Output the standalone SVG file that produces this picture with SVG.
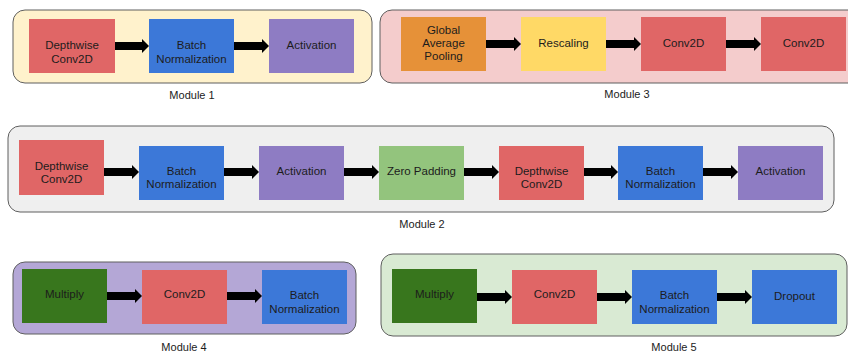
<svg xmlns="http://www.w3.org/2000/svg" width="848" height="354" viewBox="0 0 848 354">
  <defs>
    <style>
      .frame { stroke: #5f5f5f; stroke-width: 1; }
      .m1 { fill: #fff2cc; }
      .m2 { fill: #efefef; }
      .m3 { fill: #f4cccc; }
      .m4 { fill: #b4a7d6; }
      .m5 { fill: #d9ead3; }
      .red { fill: #e06666; }
      .blue { fill: #3c78d8; }
      .purple { fill: #8e7cc3; }
      .lgreen { fill: #93c47d; }
      .orange { fill: #e69138; }
      .yellow { fill: #ffd966; }
      .dgreen { fill: #38761d; }
      .node rect { stroke: none; }
      text { font-family: "Liberation Sans", Arial, sans-serif; fill: #1c1c1c; text-anchor: middle; }
      .lbl { font-size: 11.5px; }
      .cap { font-size: 11px; }
      .conn line { stroke: #000; stroke-width: 8; marker-end: url(#head); }
    </style>
    <marker id="head" markerUnits="userSpaceOnUse" markerWidth="7" markerHeight="14" refX="0" refY="7" orient="auto" overflow="visible">
      <path d="M0,0 L7,7 L0,14 Z" fill="#000"/>
    </marker>
  </defs>

  <!-- module frames -->
  <g id="module1">
    <rect class="frame m1" x="13" y="10" width="359" height="73" rx="12"/>
    <text class="cap" x="192" y="99">Module 1</text>
  </g>
  <g id="module3">
    <rect class="frame m3" x="380" y="10" width="480" height="73" rx="12"/>
    <text class="cap" x="627" y="98">Module 3</text>
  </g>
  <g id="module2">
    <rect class="frame m2" x="8" y="126" width="826" height="86" rx="12"/>
    <text class="cap" x="422" y="228">Module 2</text>
  </g>
  <g id="module4">
    <rect class="frame m4" x="13" y="262" width="343" height="72" rx="12"/>
    <text class="cap" x="184" y="351">Module 4</text>
  </g>
  <g id="module5">
    <rect class="frame m5" x="381" y="254" width="466" height="82" rx="12"/>
    <text class="cap" x="674" y="351">Module 5</text>
  </g>

  <!-- Module 1 nodes -->
  <g id="m1-depthwise" class="node">
    <rect class="red" x="29" y="19" width="86" height="54"/>
    <text class="lbl" x="72" y="49">Depthwise</text>
    <text class="lbl" x="72" y="63">Conv2D</text>
  </g>
  <g id="m1-batchnorm" class="node">
    <rect class="blue" x="149" y="19" width="85" height="54"/>
    <text class="lbl" x="191.5" y="49">Batch</text>
    <text class="lbl" x="191.5" y="63">Normalization</text>
  </g>
  <g id="m1-activation" class="node">
    <rect class="purple" x="269" y="19" width="85" height="54"/>
    <text class="lbl" x="311.5" y="49">Activation</text>
  </g>

  <!-- Module 3 nodes -->
  <g id="m3-gap" class="node">
    <rect class="orange" x="401" y="17" width="85" height="54"/>
    <text class="lbl" x="443.5" y="34">Global</text>
    <text class="lbl" x="443.5" y="47">Average</text>
    <text class="lbl" x="443.5" y="60">Pooling</text>
  </g>
  <g id="m3-rescaling" class="node">
    <rect class="yellow" x="521" y="17" width="85" height="54"/>
    <text class="lbl" x="563.5" y="47">Rescaling</text>
  </g>
  <g id="m3-conv-a" class="node">
    <rect class="red" x="641" y="17" width="85" height="54"/>
    <text class="lbl" x="683.5" y="47">Conv2D</text>
  </g>
  <g id="m3-conv-b" class="node">
    <rect class="red" x="761" y="17" width="85" height="54"/>
    <text class="lbl" x="803.5" y="47">Conv2D</text>
  </g>

  <!-- Module 2 nodes -->
  <g id="m2-depthwise-a" class="node">
    <rect class="red" x="19" y="140" width="85" height="55"/>
    <text class="lbl" x="61.5" y="170">Depthwise</text>
    <text class="lbl" x="61.5" y="183">Conv2D</text>
  </g>
  <g id="m2-batchnorm-a" class="node">
    <rect class="blue" x="139" y="146" width="85" height="54"/>
    <text class="lbl" x="181.5" y="175">Batch</text>
    <text class="lbl" x="181.5" y="188">Normalization</text>
  </g>
  <g id="m2-activation-a" class="node">
    <rect class="purple" x="259" y="146" width="85" height="54"/>
    <text class="lbl" x="301.5" y="175">Activation</text>
  </g>
  <g id="m2-zeropad" class="node">
    <rect class="lgreen" x="379" y="146" width="85" height="54"/>
    <text class="lbl" x="421.5" y="175">Zero Padding</text>
  </g>
  <g id="m2-depthwise-b" class="node">
    <rect class="red" x="499" y="146" width="85" height="54"/>
    <text class="lbl" x="541.5" y="175">Depthwise</text>
    <text class="lbl" x="541.5" y="188">Conv2D</text>
  </g>
  <g id="m2-batchnorm-b" class="node">
    <rect class="blue" x="618" y="146" width="85" height="54"/>
    <text class="lbl" x="660.5" y="175">Batch</text>
    <text class="lbl" x="660.5" y="188">Normalization</text>
  </g>
  <g id="m2-activation-b" class="node">
    <rect class="purple" x="738" y="146" width="85" height="54"/>
    <text class="lbl" x="780.5" y="175">Activation</text>
  </g>

  <!-- Module 4 nodes -->
  <g id="m4-multiply" class="node">
    <rect class="dgreen" x="22" y="269" width="85" height="54"/>
    <text class="lbl" x="64.5" y="298">Multiply</text>
  </g>
  <g id="m4-conv" class="node">
    <rect class="red" x="142" y="270" width="85" height="54"/>
    <text class="lbl" x="184.5" y="298">Conv2D</text>
  </g>
  <g id="m4-batchnorm" class="node">
    <rect class="blue" x="262" y="270" width="85" height="54"/>
    <text class="lbl" x="304.5" y="299">Batch</text>
    <text class="lbl" x="304.5" y="313">Normalization</text>
  </g>

  <!-- Module 5 nodes -->
  <g id="m5-multiply" class="node">
    <rect class="dgreen" x="392" y="269" width="85" height="54"/>
    <text class="lbl" x="434.5" y="298">Multiply</text>
  </g>
  <g id="m5-conv" class="node">
    <rect class="red" x="512" y="270" width="85" height="54"/>
    <text class="lbl" x="554.5" y="298">Conv2D</text>
  </g>
  <g id="m5-batchnorm" class="node">
    <rect class="blue" x="632" y="270" width="85" height="54"/>
    <text class="lbl" x="674.5" y="299">Batch</text>
    <text class="lbl" x="674.5" y="313">Normalization</text>
  </g>
  <g id="m5-dropout" class="node">
    <rect class="blue" x="752" y="270" width="85" height="54"/>
    <text class="lbl" x="794.5" y="300">Dropout</text>
  </g>

  <!-- connectors: thick block arrows, shaft ends where the head starts -->
  <g id="connectors" class="conn">
    <line x1="115" y1="46" x2="142" y2="46"/>
    <line x1="234" y1="46" x2="262" y2="46"/>

    <line x1="486" y1="44" x2="514" y2="44"/>
    <line x1="606" y1="44" x2="634" y2="44"/>
    <line x1="726" y1="44" x2="754" y2="44"/>

    <line x1="104" y1="172" x2="132" y2="172"/>
    <line x1="224" y1="172" x2="252" y2="172"/>
    <line x1="344" y1="172" x2="372" y2="172"/>
    <line x1="464" y1="172" x2="492" y2="172"/>
    <line x1="584" y1="172" x2="611" y2="172"/>
    <line x1="703" y1="172" x2="731" y2="172"/>

    <line x1="107" y1="296" x2="135" y2="296"/>
    <line x1="227" y1="296" x2="255" y2="296"/>

    <line x1="477" y1="297" x2="505" y2="297"/>
    <line x1="597" y1="297" x2="625" y2="297"/>
    <line x1="717" y1="297" x2="745" y2="297"/>
  </g>
</svg>
